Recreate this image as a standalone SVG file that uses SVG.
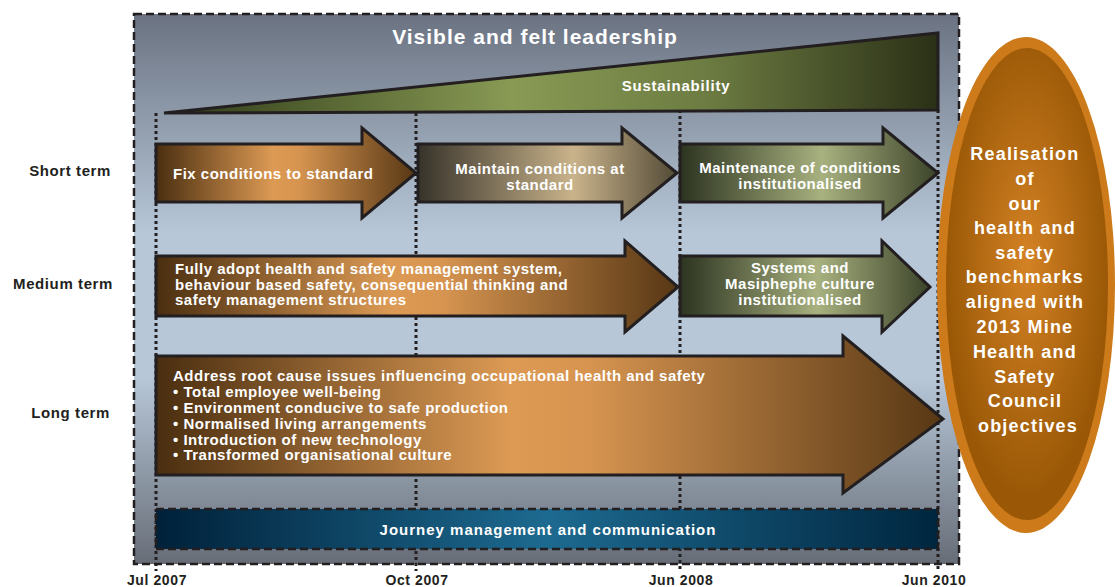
<svg xmlns="http://www.w3.org/2000/svg" width="1115" height="587" viewBox="0 0 1115 587">
<defs>
<linearGradient id="bg" x1="0" y1="0" x2="0" y2="1">
<stop offset="0" stop-color="#6b7382"/>
<stop offset="0.4" stop-color="#b7c7d8"/>
<stop offset="0.66" stop-color="#b7c7d8"/>
<stop offset="1" stop-color="#676d77"/>
</linearGradient>
<linearGradient id="olive1" x1="0" y1="0" x2="1" y2="0">
<stop offset="0" stop-color="#2e3a18"/>
<stop offset="0.45" stop-color="#889a54"/>
<stop offset="0.7" stop-color="#6d7c42"/>
<stop offset="1" stop-color="#2a3016"/>
</linearGradient>
<linearGradient id="brown" x1="0" y1="0" x2="1" y2="0">
<stop offset="0" stop-color="#4a2e10"/>
<stop offset="0.45" stop-color="#dc9a54"/>
<stop offset="0.55" stop-color="#d69450"/>
<stop offset="1" stop-color="#573714"/>
</linearGradient>
<linearGradient id="tan" x1="0" y1="0" x2="1" y2="0">
<stop offset="0" stop-color="#37332a"/>
<stop offset="0.6" stop-color="#c9b38b"/>
<stop offset="1" stop-color="#534a36"/>
</linearGradient>
<linearGradient id="olive2" x1="0" y1="0" x2="1" y2="0">
<stop offset="0" stop-color="#2c3320"/>
<stop offset="0.55" stop-color="#a8b17f"/>
<stop offset="1" stop-color="#3b4329"/>
</linearGradient>
<linearGradient id="navy" x1="0" y1="0" x2="1" y2="0">
<stop offset="0" stop-color="#00213a"/>
<stop offset="0.5" stop-color="#1d6a90"/>
<stop offset="1" stop-color="#00263f"/>
</linearGradient>
<radialGradient id="oval" cx="0.5" cy="0.45" r="0.5">
<stop offset="0" stop-color="#d48224"/>
<stop offset="1" stop-color="#9a5806"/>
</radialGradient>
<style>
.t{font-family:"Liberation Sans",Arial,sans-serif;font-weight:bold;fill:#fff;letter-spacing:1px}
.a{font-family:"Liberation Sans",Arial,sans-serif;font-weight:bold;fill:#fff;letter-spacing:0.5px;font-size:15px}
.d{font-family:"Liberation Sans",Arial,sans-serif;font-weight:bold;fill:#231f20;letter-spacing:0.6px}
.arr{stroke:#231f20;stroke-width:3;stroke-linejoin:miter}
.dot{stroke:#231f20;stroke-width:3;stroke-dasharray:3 3;fill:none}
</style>
</defs>

<g id="panel">
<rect x="134" y="14" width="825" height="550" fill="url(#bg)" stroke="#231f20" stroke-width="2.5" stroke-dasharray="8 4"/>
<text class="t" x="535" y="44" font-size="21" text-anchor="middle">Visible and felt leadership</text>
</g>

<g id="sustainability">
<polygon points="164,113 938,33 938,110 164,113" fill="url(#olive1)" stroke="#231f20" stroke-width="3"/>
<text class="a" x="676" y="91" text-anchor="middle" style="letter-spacing:0.8px">Sustainability</text>
</g>

<g id="connectors">
<line class="dot" x1="156" y1="113" x2="156" y2="571"/>
<line class="dot" x1="416" y1="113" x2="416" y2="571"/>
<line class="dot" x1="680" y1="110" x2="680" y2="571"/>
<line class="dot" x1="938" y1="110" x2="938" y2="571"/>
</g>

<g id="row-labels">
<text class="d" x="111" y="176" font-size="15" text-anchor="end">Short term</text>
<text class="d" x="113" y="289" font-size="15" text-anchor="end">Medium term</text>
<text class="d" x="110" y="418" font-size="15" text-anchor="end">Long term</text>
</g>

<g id="short1">
<polygon class="arr" fill="url(#brown)" points="156,144 362,144 362,128 416,173 362,218 362,202 156,202"/>
<text class="a" x="173" y="179">Fix conditions to standard</text>
</g>
<g id="short2">
<polygon class="arr" fill="url(#tan)" points="418,144 622,144 622,128 677,173 622,218 622,202 418,202"/>
<text class="a" text-anchor="middle"><tspan x="540" y="174">Maintain conditions at</tspan><tspan x="540" y="190">standard</tspan></text>
</g>
<g id="short3">
<polygon class="arr" fill="url(#olive2)" points="680,144 883,144 883,128 938,173 883,218 883,202 680,202"/>
<text class="a" text-anchor="middle"><tspan x="800" y="173">Maintenance of conditions</tspan><tspan x="800" y="189">institutionalised</tspan></text>
</g>

<g id="medium1">
<polygon class="arr" fill="url(#brown)" points="156,256 625,256 625,241 678,287 625,332 625,316 156,316"/>
<text class="a"><tspan x="175" y="274">Fully adopt health and safety management system,</tspan><tspan x="175" y="290">behaviour based safety, consequential thinking and</tspan><tspan x="175" y="305">safety management structures</tspan></text>
</g>
<g id="medium2">
<polygon class="arr" fill="url(#olive2)" points="680,256 882,256 882,241 930,287 882,332 882,316 680,316"/>
<text class="a" text-anchor="middle"><tspan x="800" y="273">Systems and</tspan><tspan x="800" y="289">Masiphephe culture</tspan><tspan x="800" y="305">institutionalised</tspan></text>
</g>

<g id="long">
<polygon class="arr" fill="url(#brown)" points="156,356 843,356 843,336 943,419 843,493 843,475 156,475"/>
<text class="a"><tspan x="173" y="381">Address root cause issues influencing occupational health and safety</tspan><tspan x="173" y="397">• Total employee well-being</tspan><tspan x="173" y="413">• Environment  conducive to safe production</tspan><tspan x="173" y="429">• Normalised living arrangements</tspan><tspan x="173" y="445">• Introduction of new technology</tspan><tspan x="173" y="460">• Transformed organisational culture</tspan></text>
</g>

<g id="journey">
<rect x="156" y="509" width="782" height="40" fill="url(#navy)" stroke="#231f20" stroke-width="2.5" stroke-dasharray="8 4"/>
<text class="t" x="548" y="535" font-size="15" text-anchor="middle">Journey management and communication</text>
</g>

<g id="dates">
<text class="d" x="157" y="585" font-size="14" text-anchor="middle">Jul 2007</text>
<text class="d" x="417" y="585" font-size="14" text-anchor="middle">Oct 2007</text>
<text class="d" x="681" y="585" font-size="14" text-anchor="middle">Jun 2008</text>
<text class="d" x="934" y="585" font-size="14" text-anchor="middle">Jun 2010</text>
</g>

<g id="goal">
<ellipse cx="1026" cy="285" rx="89" ry="248" fill="#cc7a1a"/>
<ellipse cx="1027" cy="284" rx="81" ry="236" fill="url(#oval)"/>
<text class="t" font-size="18" text-anchor="middle" style="letter-spacing:1.2px">
<tspan x="1028" y="160">Realisation</tspan>
<tspan x="1028" y="185">of</tspan>
<tspan x="1028" y="210">our</tspan>
<tspan x="1028" y="234">health and</tspan>
<tspan x="1028" y="259">safety</tspan>
<tspan x="1028" y="283">benchmarks</tspan>
<tspan x="1028" y="308">aligned with</tspan>
<tspan x="1028" y="333">2013 Mine</tspan>
<tspan x="1028" y="358">Health and</tspan>
<tspan x="1028" y="383">Safety</tspan>
<tspan x="1028" y="407">Council</tspan>
<tspan x="1028" y="432">objectives</tspan>
</text>
</g>
</svg>
